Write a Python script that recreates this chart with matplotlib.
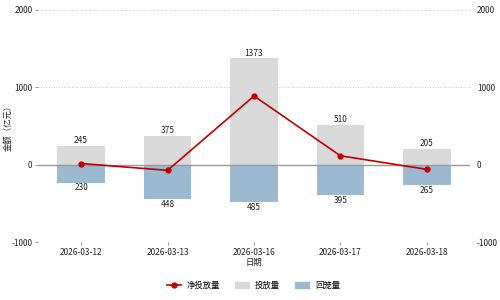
import matplotlib
matplotlib.use("Agg")
import matplotlib.pyplot as plt
import numpy as np
from matplotlib.lines import Line2D
from matplotlib.patches import Patch

plt.rcParams['font.family'] = ['Noto Sans CJK SC', 'DejaVu Sans']
plt.rcParams['axes.unicode_minus'] = False

dates = ["2026-03-12", "2026-03-13", "2026-03-16", "2026-03-17", "2026-03-18"]
injection = [245, 375, 1373, 510, 205]
withdrawal = [230, 448, 485, 395, 265]
net = [i - w for i, w in zip(injection, withdrawal)]

fs = 6
fig = plt.figure(figsize=(5, 3), dpi=100)
ax = fig.add_axes([0.076, 0.193, 0.864, 0.774])
x = np.arange(len(dates))
w = 0.55
ax.bar(x, injection, width=w, color='#d9d9d9', zorder=2)
ax.bar(x, [-v for v in withdrawal], width=w, color='#9bbad1', zorder=2)
ax.axhline(0, color='#999999', lw=1.0, zorder=3)
ax.plot(x, net, color='#c00000', lw=1.2, marker='o', ms=3.5, zorder=4)
for xi, v in zip(x, injection):
    ax.text(xi, v + 12, f"{v}", ha='center', va='bottom', fontsize=fs, color='#222222')
for xi, v in zip(x, withdrawal):
    ax.text(xi, -v - 12, f"{v}", ha='center', va='top', fontsize=fs, color='#222222')

ax.set_xlim(-0.5, len(dates) - 0.5)
ax.set_ylim(-1000, 2000)
ax.set_yticks([-1000, 0, 1000, 2000])
ax.set_xticks(x)
ax.set_xticklabels(dates)
ax.grid(axis='y', color='#cccccc', linestyle=':', lw=0.7, zorder=0)
for s in ax.spines.values():
    s.set_visible(False)
ax.tick_params(axis='both', labelsize=fs, length=2, width=0.6, color='#888888', labelcolor='#222222', pad=2)
ax.set_xlabel("日期", fontsize=fs, color='#222222', labelpad=1)
ax.set_ylabel("金额（亿元）", fontsize=fs, color='#222222')
ax.yaxis.set_label_coords(-0.058, 0.5)

ax2 = ax.twinx()
ax2.set_ylim(ax.get_ylim())
ax2.set_yticks([-1000, 0, 1000, 2000])
for s in ax2.spines.values():
    s.set_visible(False)
ax2.tick_params(axis='y', labelsize=fs, length=0, labelcolor='#222222', pad=5)

handles = [Line2D([0], [0], color='#c00000', lw=1.2, marker='o', ms=3.5),
           Patch(color='#d9d9d9'), Patch(color='#9bbad1')]
fig.legend(handles, ["净投放量", "投放量", "回笼量"], loc='center', bbox_to_anchor=(0.507, 0.05),
           ncol=3, frameon=False, fontsize=fs, handlelength=1.7, handletextpad=0.7,
           columnspacing=1.8)
fig.savefig("out.png", dpi=100)
